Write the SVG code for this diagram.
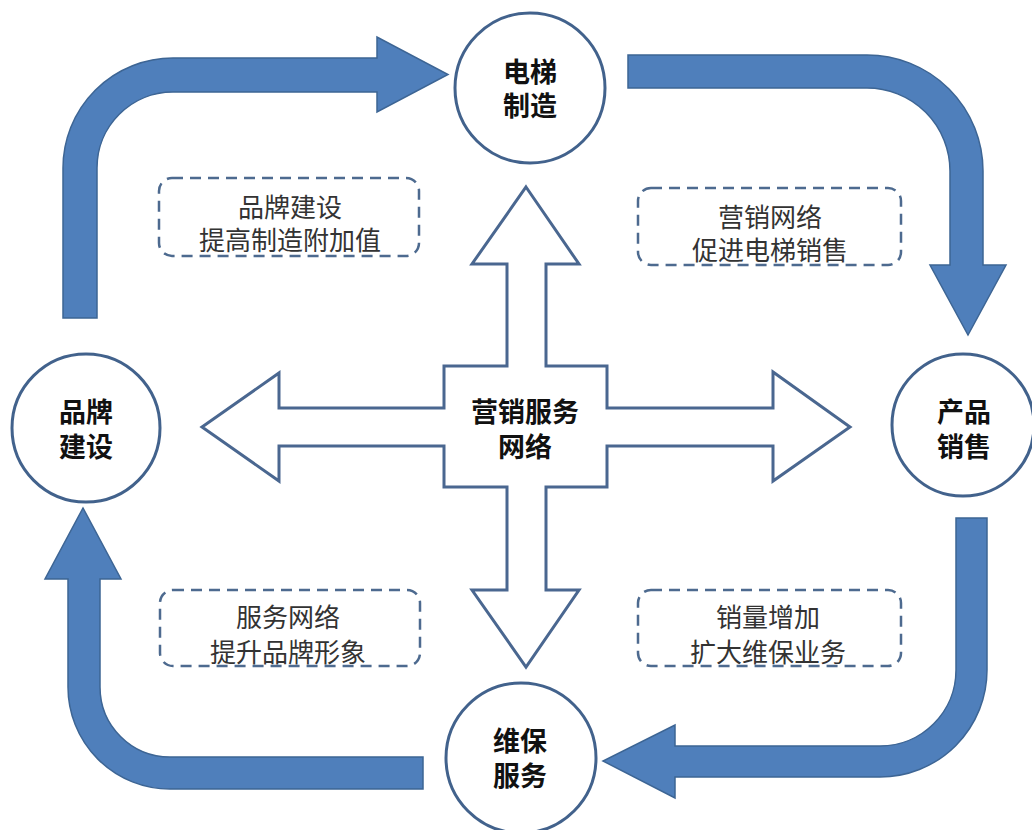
<svg xmlns="http://www.w3.org/2000/svg" width="1032" height="830" viewBox="0 0 1032 830">
  <defs>
    <style>
      .flow { fill: #4f7fbb; stroke: #3d6594; stroke-width: 1.5; stroke-linejoin: miter; }
      .node { fill: #ffffff; stroke: #42628c; stroke-width: 3; }
      .hub { fill: #ffffff; stroke: #4a6790; stroke-width: 3; stroke-linejoin: miter; }
      .note { fill: none; stroke: #4d6a8f; stroke-width: 2.5; stroke-dasharray: 11 7; }
      .title { font-family: "Noto Sans CJK SC", "Noto Sans", sans-serif; font-size: 27px; font-weight: bold; fill: #111111; text-anchor: middle; dominant-baseline: central; }
      .label { font-family: "Noto Sans CJK SC", "Noto Sans", sans-serif; font-size: 26px; fill: #333333; text-anchor: middle; dominant-baseline: central; }
    </style>
  </defs>
  <rect width="1032" height="830" fill="#ffffff"/>

  <!-- note boxes -->
  <g id="note-brand">
    <rect class="note" x="159" y="178" width="260" height="78" rx="13"/>
    <text class="label" x="290" y="205">品牌建设</text>
    <text class="label" x="290" y="238">提高制造附加值</text>
  </g>
  <g id="note-sales">
    <rect class="note" x="638" y="188" width="263" height="77" rx="13"/>
    <text class="label" x="770" y="215">营销网络</text>
    <text class="label" x="770" y="248">促进电梯销售</text>
  </g>
  <g id="note-service">
    <rect class="note" x="160" y="590" width="260" height="76" rx="13"/>
    <text class="label" x="288" y="615">服务网络</text>
    <text class="label" x="288" y="650">提升品牌形象</text>
  </g>
  <g id="note-maint">
    <rect class="note" x="638" y="590" width="263" height="76" rx="13"/>
    <text class="label" x="768" y="615">销量增加</text>
    <text class="label" x="768" y="650">扩大维保业务</text>
  </g>

  <!-- central four-way hub -->
  <g id="hub">
    <polygon class="hub" points="526,187 579,264 546,264 546,366 607,366 607,408 773,408 773,372 850,427 773,481 773,446 607,446 607,487 546,487 546,590 579,590 526,667 472,590 507,590 507,487 444,487 444,446 279,446 279,481 202,427 279,373 279,408 444,408 444,366 507,366 507,264 472,264"/>
    <text class="title" x="525" y="410">营销服务</text>
    <text class="title" x="525" y="445">网络</text>
  </g>

  <!-- cycle connectors -->
  <g id="connectors">
    <path class="flow" d="M 63 318 L 63 168 A 110 110 0 0 1 173 58 L 377 58 L 377 37 L 448 74.5 L 377 112 L 377 92 L 173 92 A 76 76 0 0 0 97 168 L 97 318 Z"/>
    <path class="flow" d="M 628 55 L 867 55 A 116 116 0 0 1 983 171 L 983 265 L 1006 265 L 968 335 L 930 265 L 950 265 L 950 171 A 83 83 0 0 0 867 88 L 628 88 Z"/>
    <path class="flow" d="M 956 518 L 987 518 L 987 670 A 107 107 0 0 1 880 777 L 675 777 L 675 798 L 603 761 L 675 725 L 675 746 L 880 746 A 76 76 0 0 0 956 670 Z"/>
    <path class="flow" d="M 423 757 L 423 789 L 170 789 A 102 102 0 0 1 68 687 L 68 579 L 45 579 L 83 508 L 121 579 L 100 579 L 100 687 A 70 70 0 0 0 170 757 Z"/>
  </g>

  <!-- nodes -->
  <g id="node-manufacture">
    <circle class="node" cx="530" cy="88" r="75"/>
    <text class="title" x="530" y="70">电梯</text>
    <text class="title" x="530" y="104">制造</text>
  </g>
  <g id="node-sales">
    <circle class="node" cx="963" cy="425" r="71"/>
    <text class="title" x="964" y="410">产品</text>
    <text class="title" x="964" y="445">销售</text>
  </g>
  <g id="node-service">
    <circle class="node" cx="521" cy="758" r="75"/>
    <text class="title" x="520" y="739">维保</text>
    <text class="title" x="520" y="774">服务</text>
  </g>
  <g id="node-brand">
    <circle class="node" cx="86" cy="428" r="74"/>
    <text class="title" x="86" y="410">品牌</text>
    <text class="title" x="86" y="445">建设</text>
  </g>
</svg>
